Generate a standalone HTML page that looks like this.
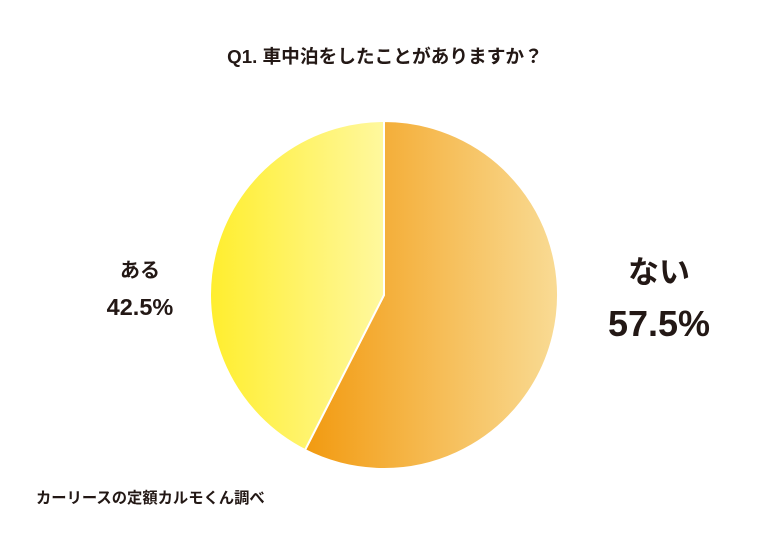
<!DOCTYPE html>
<html><head><meta charset="utf-8"><style>
body{margin:0;background:#fff;width:768px;height:538px;overflow:hidden;font-family:"Liberation Sans","Noto Sans CJK JP",sans-serif;}
</style></head><body>
<svg width="768" height="538">
<defs>
<linearGradient id="gO" x1="0" y1="0" x2="1" y2="0"><stop offset="0" stop-color="#F29A10"/><stop offset="1" stop-color="#F9DB94"/></linearGradient>
<linearGradient id="gY" x1="0" y1="0" x2="1" y2="0"><stop offset="0" stop-color="#FFEE2E"/><stop offset="1" stop-color="#FFF89E"/></linearGradient>
</defs>
<text x="385" y="63" text-anchor="middle" font-size="18.7" font-weight="bold" fill="#231815">Q1. 車中泊をしたことがありますか？</text>
<g id="slices"></g>
<text x="140" y="277" text-anchor="middle" font-size="20" font-weight="bold" fill="#231815">ある</text>
<text x="140" y="315" text-anchor="middle" font-size="23.5" font-weight="bold" fill="#231815">42.5%</text>
<text x="659" y="283" text-anchor="middle" font-size="31" font-weight="bold" fill="#231815">ない</text>
<text x="659" y="336" text-anchor="middle" font-size="36" font-weight="bold" fill="#231815">57.5%</text>
<text x="36" y="503" font-size="15.3" font-weight="bold" fill="#231815">カーリースの定額カルモくん調べ</text>
</svg>
<script>
const categories=["ない","ある"];
const values=[57.5,42.5];
const fills=["url(#gO)","url(#gY)"];
const cx=384,cy=295,r=174;
const g=document.getElementById('slices');
const total=values.reduce((a,b)=>a+b,0);
let a0=0;
values.forEach((v,i)=>{
 const a1=a0+v/total*Math.PI*2;
 const p=(a)=>[cx+r*Math.sin(a),cy-r*Math.cos(a)];
 const [x0,y0]=p(a0),[x1,y1]=p(a1);
 const large=(a1-a0)>Math.PI?1:0;
 const path=document.createElementNS('http://www.w3.org/2000/svg','path');
 path.setAttribute('d',`M${cx},${cy}L${x0},${y0}A${r},${r} 0 ${large} 1 ${x1},${y1}Z`);
 path.setAttribute('fill',fills[i]);
 path.setAttribute('stroke','#fff');
 path.setAttribute('stroke-width','2');
 
 
 g.appendChild(path);
 a0=a1;
});
</script>
</body></html>
